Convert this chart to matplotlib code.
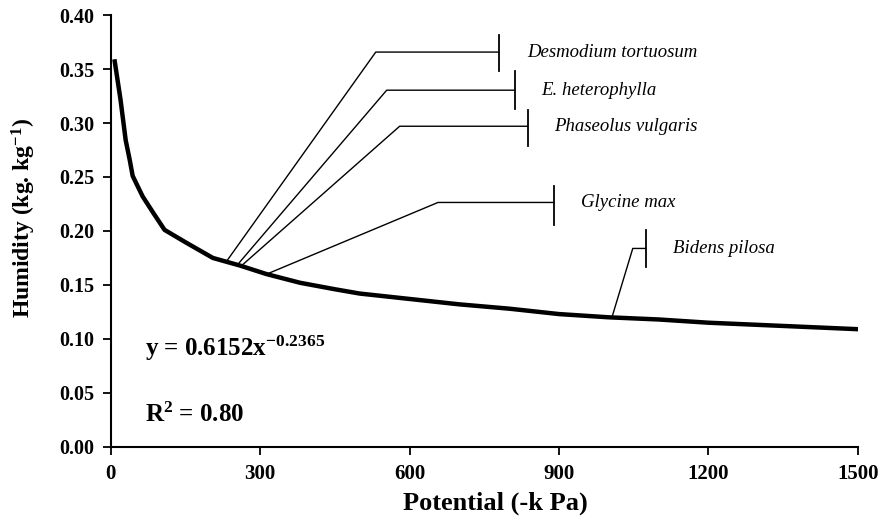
import numpy as np
import matplotlib.pyplot as plt

plt.rcParams['font.family'] = ['Liberation Serif', 'DejaVu Serif']
plt.rcParams['mathtext.fontset'] = 'custom'
plt.rcParams['mathtext.rm'] = 'Liberation Serif'
plt.rcParams['mathtext.bf'] = 'Liberation Serif:bold'
plt.rcParams['mathtext.default'] = 'bf'

# curve (potential in -kPa, humidity in kg/kg)
potential = [8, 19.5, 30, 38, 44, 64, 85, 108, 152, 205, 259, 313, 380, 450, 500,
             600, 700, 800, 900, 1000, 1100, 1200, 1300, 1400, 1500]
humidity = [0.357, 0.322, 0.284, 0.266, 0.251, 0.232, 0.217, 0.201, 0.189, 0.175,
            0.168, 0.160, 0.152, 0.146, 0.142, 0.137, 0.132, 0.128, 0.123, 0.120,
            0.118, 0.115, 0.113, 0.111, 0.109]

# species leader lines: start on curve, elbow, end of horizontal, bar span, label x
species = ['Desmodium tortuosum', 'E. heterophylla', 'Phaseolus vulgaris',
           'Glycine max', 'Bidens pilosa']
start_x = [235, 255, 263, 313, 1006]
start_y = [0.1735, 0.169, 0.168, 0.160, 0.1197]
elbow_x = [532, 554, 580, 657, 1048]
elbow_y = [0.3657, 0.3304, 0.297, 0.2264, 0.1838]
end_x = [779, 811, 837, 890, 1074]
bar_lo = [0.348, 0.3128, 0.2784, 0.2051, 0.167]
bar_hi = [0.3814, 0.348, 0.3118, 0.2413, 0.2005]
label_x = [837, 865, 890, 944, 1129]

fig = plt.figure(figsize=(8.79, 5.19), dpi=100)
ax = fig.add_axes([0.126, 0.139, 0.85, 0.832])

ax.plot(potential, humidity, color='black', lw=3.2, solid_joinstyle='round')

for i in range(len(species)):
    ax.plot([start_x[i], elbow_x[i], end_x[i]], [start_y[i], elbow_y[i], elbow_y[i]],
            color='black', lw=1.0)
    ax.plot([end_x[i], end_x[i]], [bar_lo[i], bar_hi[i]], color='black', lw=1.3)
    ax.text(label_x[i], elbow_y[i], species[i], style='italic', fontsize=13.5,
            va='center', ha='left')

ax.text(68, 0.091, r'y = 0.6152x$^{-0.2365}$', fontsize=18, fontweight='bold',
        va='center')
ax.text(68, 0.030, r'R$^{2}$ = 0.80', fontsize=18, fontweight='bold', va='center')

ax.set_xlim(0, 1500)
ax.set_ylim(0, 0.40)
ax.set_xticks([0, 300, 600, 900, 1200, 1500])
ax.set_yticks(np.arange(0, 0.401, 0.05))
ax.set_yticklabels(['%.2f' % v for v in np.arange(0, 0.401, 0.05)])
for lab in ax.get_xticklabels():
    lab.set_fontweight('bold')
    lab.set_fontsize(15)
for lab in ax.get_yticklabels():
    lab.set_fontweight('bold')
    lab.set_fontsize(14.5)
ax.tick_params(direction='out', length=6, width=1.3, pad=6)

ax.spines['top'].set_visible(False)
ax.spines['right'].set_visible(False)
ax.spines['left'].set_linewidth(1.5)
ax.spines['bottom'].set_linewidth(1.5)

ax.set_xlabel('Potential (-k Pa)', fontsize=19, fontweight='bold')
ax.set_ylabel(r'Humidity (kg. kg$^{-1}$)', fontsize=17, fontweight='bold')
ax.xaxis.set_label_coords(0.515, -0.103)
ax.yaxis.set_label_coords(-0.097, 0.53)

fig.savefig('out.png', dpi=100)
